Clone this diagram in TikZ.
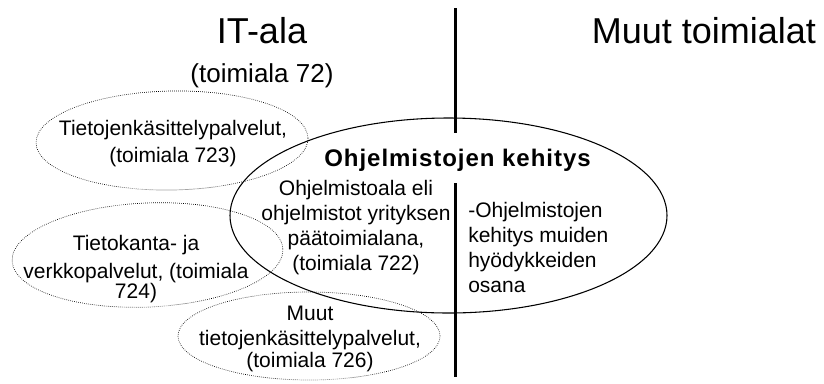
\documentclass[tikz,border=0pt]{standalone}
\usepackage{fontspec}
\setmainfont{Liberation Sans}
\newfontfamily\titlefont[LetterSpace=4]{Liberation Sans}
\usetikzlibrary{shapes.geometric}

\begin{document}
\begin{tikzpicture}[x=0.75pt, y=-0.75pt,
    sector/.style={font=\fontsize{27}{32}\selectfont, inner sep=0pt, anchor=base},
    subsector/.style={font=\fontsize{19.5}{23}\selectfont, inner sep=0pt, anchor=base},
    txt/.style={font=\fontsize{15.75}{18.75}\selectfont, align=center, inner sep=0pt, anchor=base},
    area/.style={ellipse, draw, densely dotted, line width=0.5pt, inner sep=0pt},
    core/.style={ellipse, draw, line width=0.8pt, inner sep=0pt}]
    \useasboundingbox (0,0) rectangle (824,383);
    % headings
    \node (itala) at (262,43) [sector] {IT-ala};
    \node (tl72) at (262,82) [subsector] {(toimiala 72)};
    \node (muut) at (704,43) [sector] {Muut toimialat};
    % ellipses
    \node (ohj) at (448.5,215.5) [core, minimum width=327.75pt, minimum height=146.25pt] {};
    \node (tl723) at (172,140.5) [area, rotate=1, minimum width=204pt, minimum height=74.25pt] {};
    \node (tl724) at (147.5,255) [area, rotate=2.5, minimum width=203.25pt, minimum height=78pt] {};
    \node (tl726) at (309,336) [area, minimum width=196.5pt, minimum height=66pt] {};
    % texts (placed at the baseline of their last line)
    \node (kehitys) at (457.5,166) [inner sep=0pt, anchor=base, font=\fontsize{18}{21}\titlefont\bfseries] {Ohjelmistojen kehitys};
    \node (t722) at (356,270) [txt] {Ohjelmistoala eli\\ohjelmistot yrityksen\\päätoimialana,\\(toimiala 722)};
    \node (muidenosana) at (468,292) [txt, align=left, anchor=base west] {-Ohjelmistojen\\kehitys muiden\\hyödykkeiden\\osana};
    \node (t723) at (173,162) [txt] {Tietojenkäsittelypalvelut,\\[1.5pt](toimiala 723)};
    \node (t724) at (136,298) [txt] {Tietokanta- ja\\[2.25pt]verkkopalvelut, (toimiala\\[-3.75pt]724)};
    \node (t726) at (310,367) [txt] {Muut\\tietojenkäsittelypalvelut,\\[-2.25pt](toimiala 726)};
    % dividing line
    \coordinate (divtop) at (455,8);
    \coordinate (divgapa) at (455,133);
    \coordinate (divgapb) at (455,183);
    \coordinate (divbot) at (455,377);
    \draw[line width=2.25pt] (divtop) -- (divgapa) (divgapb) -- (divbot);
\end{tikzpicture}
\end{document}
